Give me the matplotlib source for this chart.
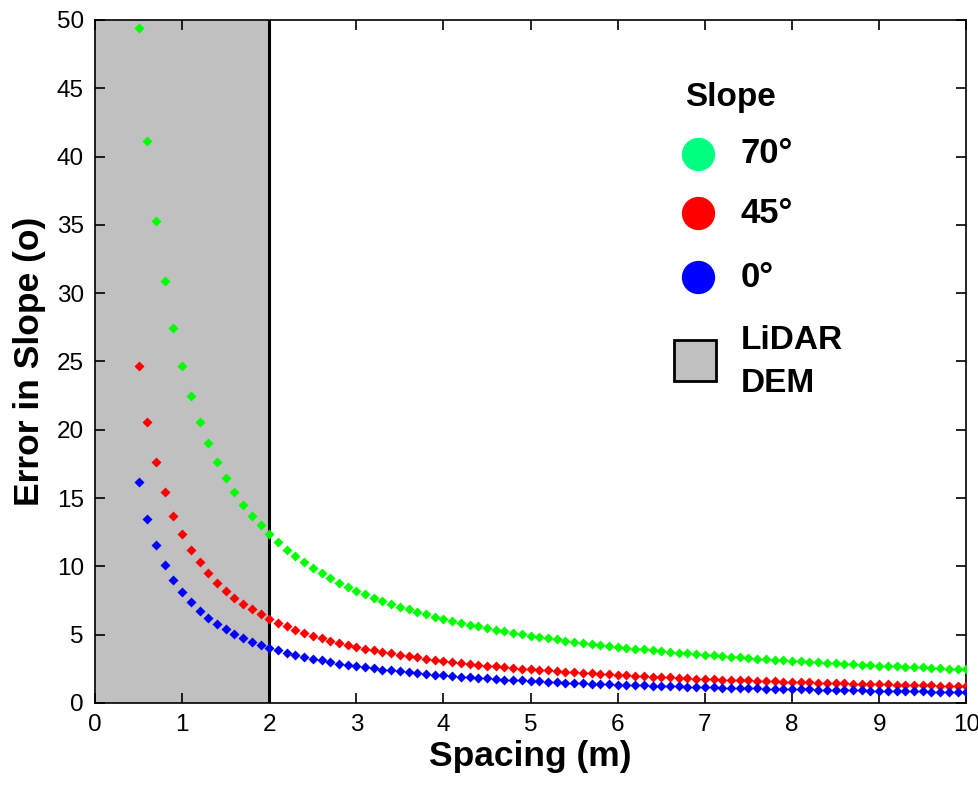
import matplotlib
matplotlib.use("Agg")
import matplotlib.pyplot as plt
from matplotlib.patches import Rectangle

plt.rcParams['font.family'] = ['Liberation Sans', 'DejaVu Sans']

# grid spacing (m)
spacing = [0.5, 0.6, 0.7, 0.8, 0.9, 1.0, 1.1, 1.2, 1.3, 1.4, 1.5, 1.6, 1.7, 1.8, 1.9,
           2.0, 2.1, 2.2, 2.3, 2.4, 2.5, 2.6, 2.7, 2.8, 2.9, 3.0, 3.1, 3.2, 3.3, 3.4,
           3.5, 3.6, 3.7, 3.8, 3.9, 4.0, 4.1, 4.2, 4.3, 4.4, 4.5, 4.6, 4.7, 4.8, 4.9,
           5.0, 5.1, 5.2, 5.3, 5.4, 5.5, 5.6, 5.7, 5.8, 5.9, 6.0, 6.1, 6.2, 6.3, 6.4,
           6.5, 6.6, 6.7, 6.8, 6.9, 7.0, 7.1, 7.2, 7.3, 7.4, 7.5, 7.6, 7.7, 7.8, 7.9,
           8.0, 8.1, 8.2, 8.3, 8.4, 8.5, 8.6, 8.7, 8.8, 8.9, 9.0, 9.1, 9.2, 9.3, 9.4,
           9.5, 9.6, 9.7, 9.8, 9.9, 10.0]

# error in slope, 70 deg terrain
err_70 = [49.40, 41.17, 35.29, 30.88, 27.44, 24.70, 22.45, 20.58, 19.00, 17.64,
          16.47, 15.44, 14.53, 13.72, 13.00, 12.35, 11.76, 11.23, 10.74, 10.29,
          9.88, 9.50, 9.15, 8.82, 8.52, 8.23, 7.97, 7.72, 7.48, 7.26,
          7.06, 6.86, 6.68, 6.50, 6.33, 6.18, 6.02, 5.88, 5.74, 5.61,
          5.49, 5.37, 5.26, 5.15, 5.04, 4.94, 4.84, 4.75, 4.66, 4.57,
          4.49, 4.41, 4.33, 4.26, 4.19, 4.12, 4.05, 3.98, 3.92, 3.86,
          3.80, 3.74, 3.69, 3.63, 3.58, 3.53, 3.48, 3.43, 3.38, 3.34,
          3.29, 3.25, 3.21, 3.17, 3.13, 3.09, 3.05, 3.01, 2.98, 2.94,
          2.91, 2.87, 2.84, 2.81, 2.78, 2.74, 2.71, 2.68, 2.66, 2.63,
          2.60, 2.57, 2.55, 2.52, 2.49, 2.47]

# 45 deg terrain
err_45 = [24.70, 20.58, 17.64, 15.44, 13.72, 12.35, 11.23, 10.29, 9.50, 8.82,
          8.23, 7.72, 7.26, 6.86, 6.50, 6.18, 5.88, 5.61, 5.37, 5.15,
          4.94, 4.75, 4.57, 4.41, 4.26, 4.12, 3.98, 3.86, 3.74, 3.63,
          3.53, 3.43, 3.34, 3.25, 3.17, 3.09, 3.01, 2.94, 2.87, 2.81,
          2.74, 2.68, 2.63, 2.57, 2.52, 2.47, 2.42, 2.38, 2.33, 2.29,
          2.25, 2.21, 2.17, 2.13, 2.09, 2.06, 2.02, 1.99, 1.96, 1.93,
          1.90, 1.87, 1.84, 1.82, 1.79, 1.76, 1.74, 1.72, 1.69, 1.67,
          1.65, 1.62, 1.60, 1.58, 1.56, 1.54, 1.52, 1.51, 1.49, 1.47,
          1.45, 1.44, 1.42, 1.40, 1.39, 1.37, 1.36, 1.34, 1.33, 1.31,
          1.30, 1.29, 1.27, 1.26, 1.25, 1.24]

# flat terrain
err_0 = [16.20, 13.50, 11.57, 10.13, 9.00, 8.10, 7.36, 6.75, 6.23, 5.79,
         5.40, 5.06, 4.76, 4.50, 4.26, 4.05, 3.86, 3.68, 3.52, 3.38,
         3.24, 3.12, 3.00, 2.89, 2.79, 2.70, 2.61, 2.53, 2.45, 2.38,
         2.31, 2.25, 2.19, 2.13, 2.08, 2.03, 1.98, 1.93, 1.88, 1.84,
         1.80, 1.76, 1.72, 1.69, 1.65, 1.62, 1.59, 1.56, 1.53, 1.50,
         1.47, 1.45, 1.42, 1.40, 1.37, 1.35, 1.33, 1.31, 1.29, 1.27,
         1.25, 1.23, 1.21, 1.19, 1.17, 1.16, 1.14, 1.13, 1.11, 1.09,
         1.08, 1.07, 1.05, 1.04, 1.03, 1.01, 1.00, 0.99, 0.98, 0.96,
         0.95, 0.94, 0.93, 0.92, 0.91, 0.90, 0.89, 0.88, 0.87, 0.86,
         0.85, 0.84, 0.84, 0.83, 0.82, 0.81]

lidar_max = 2.0  # LiDAR DEM spacing limit

fig = plt.figure(figsize=(9.79, 7.86), dpi=100)
ax = fig.add_axes([0.097, 0.1056, 0.890, 0.869])

ax.axvspan(0, lidar_max, color='#c0c0c0', zorder=0)
ax.axvline(lidar_max, color='black', lw=2.2, zorder=1)

ax.plot(spacing, err_70, 'D', color='#00ff00', ms=5.4, mec='none', zorder=3)
ax.plot(spacing, err_45, 'D', color='#ff0000', ms=5.4, mec='none', zorder=3)
ax.plot(spacing, err_0, 'D', color='#0000ff', ms=5.4, mec='none', zorder=3)

ax.set_xlim(0, 10)
ax.set_ylim(0, 50)
ax.set_xticks(range(0, 11))
ax.set_yticks(range(0, 51, 5))
ax.tick_params(direction='in', top=True, right=True, length=7, width=1.2,
               labelsize=17.5, pad=8)
for s in ax.spines.values():
    s.set_linewidth(1.2)

ax.set_xlabel('Spacing (m)', fontsize=25.5, fontweight='bold', labelpad=3)
ax.set_ylabel('Error in Slope (o)', fontsize=25.5, fontweight='bold', labelpad=8)

# hand-made legend
ax.text(0.677, 0.887, 'Slope', transform=ax.transAxes, fontsize=24,
        fontweight='bold', va='center', ha='left')
leg_items = [('70°', '#00ff80', 0.804), ('45°', '#ff0000', 0.717), ('0°', '#0000ff', 0.623)]
for lab, col, yy in leg_items:
    ax.plot([0.692], [yy], 'o', color=col, ms=24, mec='none',
            transform=ax.transAxes, clip_on=False)
    ax.text(0.741, yy, lab, transform=ax.transAxes, fontsize=25,
            fontweight='bold', va='center', ha='left')
ax.add_patch(Rectangle((0.664, 0.471), 0.049, 0.061, transform=ax.transAxes,
                       facecolor='#c0c0c0', edgecolor='black', lw=2))
ax.text(0.741, 0.531, 'LiDAR', transform=ax.transAxes, fontsize=24,
        fontweight='bold', va='center', ha='left')
ax.text(0.741, 0.468, 'DEM', transform=ax.transAxes, fontsize=24,
        fontweight='bold', va='center', ha='left')

fig.savefig('out.png', dpi=100)
